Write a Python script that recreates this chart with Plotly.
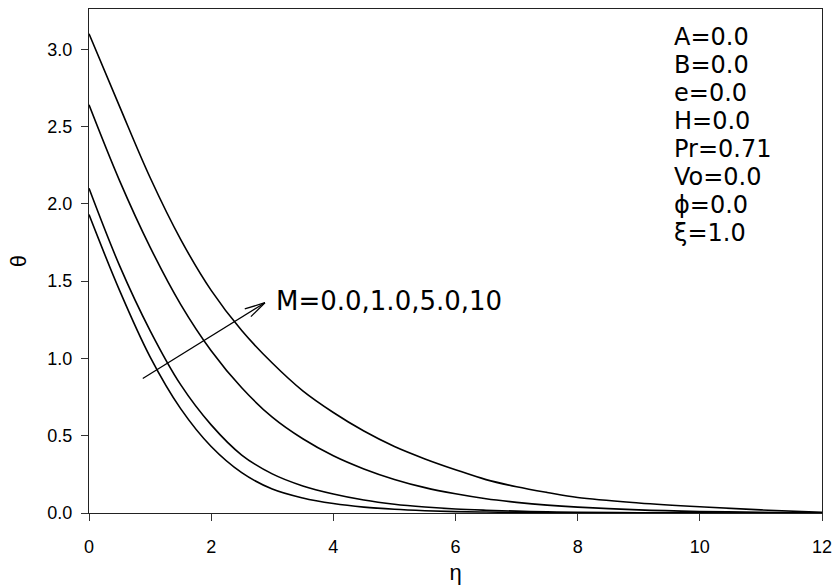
import plotly.graph_objects as go

# Dimensionless temperature profiles theta(eta) for increasing magnetic parameter M
eta = [0, 0.5, 1.0, 1.5, 2.0, 2.5, 3.0, 3.5, 4.0, 4.5, 5.0, 5.5, 6.0, 6.5, 7.0, 7.5, 8.0,
       9.0, 10.0, 11.0, 12.0]
theta_M0 = [1.93, 1.44, 1.01, 0.675, 0.43, 0.261, 0.155, 0.097, 0.061, 0.038, 0.024, 0.015,
            0.009, 0.006, 0.004, 0.002, 0.001, 0.0, 0.0, 0.0, 0.0]
theta_M1 = [2.10, 1.60, 1.18, 0.83, 0.57, 0.375, 0.253, 0.175, 0.123, 0.084, 0.057, 0.039,
            0.026, 0.018, 0.012, 0.008, 0.005, 0.002, 0.001, 0.0, 0.0]
theta_M5 = [2.64, 2.15, 1.72, 1.35, 1.05, 0.81, 0.62, 0.48, 0.37, 0.285, 0.217, 0.164,
            0.124, 0.092, 0.069, 0.051, 0.038, 0.02, 0.01, 0.005, 0.0]
theta_M10 = [3.10, 2.63, 2.17, 1.77, 1.44, 1.18, 0.97, 0.79, 0.65, 0.53, 0.43, 0.35,
             0.28, 0.216, 0.17, 0.133, 0.10, 0.065, 0.04, 0.02, 0.004]

series = [theta_M0, theta_M1, theta_M5, theta_M10]

param_lines = ["A=0.0", "B=0.0", "e=0.0", "H=0.0", "Pr=0.71", "Vo=0.0", "ϕ=0.0", "ξ=1.0"]
m_label = "M=0.0,1.0,5.0,10"

FONT = "Liberation Sans, Arial, sans-serif"
ANN_FONT = "DejaVu Sans, sans-serif"

fig = go.Figure()
for ys in series:
    fig.add_trace(go.Scatter(
        x=eta, y=ys, mode="lines",
        line=dict(color="black", width=1.6, shape="spline", smoothing=1.0),
        showlegend=False, hoverinfo="skip",
    ))

# Arrow across the curves (shaft plus an open V head)
tail = (0.88, 0.87)
tip = (2.88, 1.36)
barb1 = (2.55, 1.32)
barb2 = (2.65, 1.27)
for (x0, y0), (x1, y1) in [(tail, tip), (barb1, tip), (barb2, tip)]:
    fig.add_shape(type="line", x0=x0, y0=y0, x1=x1, y1=y1, xref="x", yref="y",
                  line=dict(color="black", width=1.3))

annotations = [dict(
    x=3.03, y=1.37, xref="x", yref="y", text=m_label, showarrow=False,
    xanchor="left", yanchor="middle", font=dict(family=ANN_FONT, size=26, color="black"),
)]

plot_top, plot_bottom = 9, 513
line_px = [37, 65, 93, 121, 149, 177, 205, 233]
for txt, ypx in zip(param_lines, line_px):
    annotations.append(dict(
        x=(672 - 89) / 733, y=(plot_bottom - ypx) / (plot_bottom - plot_top),
        xref="paper", yref="paper", text=txt, showarrow=False,
        xanchor="left", yanchor="middle", font=dict(family=ANN_FONT, size=24, color="black"),
    ))

fig.update_layout(
    width=835, height=585,
    margin=dict(l=89, r=13, t=9, b=72, autoexpand=False),
    paper_bgcolor="white", plot_bgcolor="white",
    font=dict(family=FONT, color="black"),
    annotations=annotations,
    xaxis=dict(
        range=[0, 12], tickvals=[0, 2, 4, 6, 8, 10, 12], ticks="outside", ticklen=7,
        tickwidth=1, tickcolor="#333", showline=True, linecolor="#222", linewidth=1,
        mirror=True, showgrid=False, zeroline=False, ticklabelstandoff=10, automargin=False,
        tickfont=dict(family=FONT, size=18, color="black"),
        title=dict(text="η", font=dict(family=FONT, size=22, color="black"), standoff=10),
    ),
    yaxis=dict(
        range=[0, 3.26], tickvals=[0, 0.5, 1.0, 1.5, 2.0, 2.5, 3.0],
        ticktext=["0.0", "0.5", "1.0", "1.5", "2.0", "2.5", "3.0"],
        ticks="outside", ticklen=7, tickwidth=1, tickcolor="#333",
        showline=True, linecolor="#222", linewidth=1, mirror=True,
        showgrid=False, zeroline=False, ticklabelstandoff=5, automargin=False,
        tickfont=dict(family=FONT, size=18, color="black"),
        title=dict(text="θ", font=dict(family=FONT, size=22, color="black"), standoff=14),
    ),
)

fig.write_html("out.html")
